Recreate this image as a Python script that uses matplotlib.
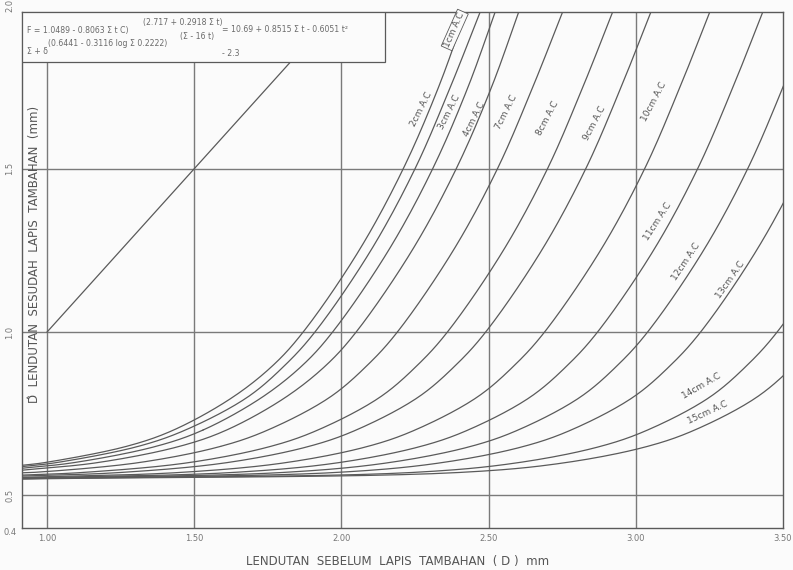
import numpy as np
import matplotlib
matplotlib.use("Agg")
import matplotlib.pyplot as plt

# ---------------- data ----------------
thickness_cm = [1, 2, 3, 4, 7, 8, 9, 10, 11, 12, 13, 14, 15]
# y-levels (mm) at which the x-crossing of each curve was read
y_levels = [0.57, 0.60, 0.65, 0.70, 0.80, 0.90, 1.00, 1.25, 1.50, 1.75, 2.00]
# deflection at the left edge of the chart for each curve
x_left = 0.915
y_left = [0.592, 0.588, 0.583, 0.577, 0.569, 0.562, 0.559, 0.555, 0.553,
          0.552, 0.551, 0.551, 0.550]
# x (deflection before overlay) where each curve reaches each y-level
x_1cm = [0.62, 0.99, 1.27, 1.43, 1.63, 1.77, 1.87, 2.06, 2.21, 2.33, 2.43]
x_2cm = [0.67, 1.03, 1.31, 1.47, 1.68, 1.81, 1.91, 2.10, 2.25, 2.37, 2.48]
x_3cm = [0.72, 1.09, 1.37, 1.53, 1.73, 1.87, 1.97, 2.16, 2.31, 2.43, 2.53]
x_4cm = [0.80, 1.17, 1.45, 1.61, 1.81, 1.95, 2.05, 2.24, 2.39, 2.51, 2.61]
x_7cm = [0.95, 1.31, 1.59, 1.75, 1.96, 2.09, 2.19, 2.38, 2.53, 2.65, 2.76]
x_8cm = [1.12, 1.48, 1.76, 1.92, 2.13, 2.26, 2.36, 2.55, 2.70, 2.82, 2.93]
x_9cm = [1.25, 1.61, 1.89, 2.05, 2.26, 2.39, 2.49, 2.68, 2.83, 2.95, 3.06]
x_10cm = [1.45, 1.81, 2.09, 2.25, 2.46, 2.59, 2.69, 2.88, 3.03, 3.15, 3.26]
x_11cm = [1.63, 1.99, 2.27, 2.43, 2.64, 2.77, 2.87, 3.06, 3.21, 3.33, 3.44]
x_12cm = [1.80, 2.16, 2.44, 2.60, 2.81, 2.94, 3.04, 3.23, 3.38, 3.50, 3.61]
x_13cm = [1.98, 2.34, 2.62, 2.78, 2.99, 3.12, 3.22, 3.41, 3.56, 3.68, 3.79]
x_14cm = [2.24, 2.60, 2.88, 3.04, 3.25, 3.38, 3.48, 3.67, 3.82, 3.94, 4.05]
x_15cm = [2.40, 2.76, 3.04, 3.20, 3.41, 3.54, 3.64, 3.83, 3.98, 4.10, 4.21]
curve_x = [x_1cm, x_2cm, x_3cm, x_4cm, x_7cm, x_8cm, x_9cm, x_10cm,
           x_11cm, x_12cm, x_13cm, x_14cm, x_15cm]

x_ticks = [1.00, 1.50, 2.00, 2.50, 3.00, 3.50]
x_tick_labels = ["1.00", "1.50", "2.00", "2.50", "3.00", "3.50"]
y_ticks = [0.5, 1.0, 1.5, 2.0]
y_tick_labels = ["0.5", "1.0", "1.5", "2.0"]

# curve labels: text, anchor (data coords), rotation
label_text = ["1cm A.C", "2cm A.C", "3cm A.C", "4cm A.C", "7cm A.C",
              "8cm A.C", "9cm A.C", "10cm A.C", "11cm A.C", "12cm A.C",
              "13cm A.C", "14cm A.C", "15cm A.C"]
label_pos = [(2.385, 1.925), (2.270, 1.681), (2.365, 1.672), (2.452, 1.653),
             (2.560, 1.672), (2.700, 1.656), (2.860, 1.638), (3.062, 1.706),
             (3.073, 1.340), (3.172, 1.215), (3.322, 1.160), (3.224, 0.834),
             (3.245, 0.752)]
label_rot = [66, 63, 63, 63, 63, 62, 62, 62, 57, 56, 55, 30, 25]

XMIN, XMAX = 0.915, 3.50
YMIN, YMAX = 0.40, 1.98

LINE = "#5a5a5a"
GRID = "#7a7a7a"
TXT = "#555555"

fig = plt.figure(figsize=(7.93, 5.70), dpi=100)
fig.patch.set_facecolor("#fbfbfb")
ax = fig.add_axes([22 / 793, 1 - 528 / 570, 761 / 793, 516 / 570])
ax.set_facecolor("#fbfbfb")
ax.set_xlim(XMIN, XMAX)
ax.set_ylim(YMIN, YMAX)


def smooth(xs, ys, n=24):
    """centripetal Catmull-Rom through the points (in normalised space)."""
    px = (np.asarray(xs) - XMIN) / (XMAX - XMIN) * 761
    py = (np.asarray(ys) - YMIN) / (YMAX - YMIN) * 516
    P = np.column_stack([px, py])
    P = np.vstack([2 * P[0] - P[1], P, 2 * P[-1] - P[-2]])
    out = []
    for i in range(1, len(P) - 2):
        p0, p1, p2, p3 = P[i - 1], P[i], P[i + 1], P[i + 2]
        t0 = 0.0
        t1 = t0 + np.linalg.norm(p1 - p0) ** 0.5 + 1e-9
        t2 = t1 + np.linalg.norm(p2 - p1) ** 0.5 + 1e-9
        t3 = t2 + np.linalg.norm(p3 - p2) ** 0.5 + 1e-9
        t = np.linspace(t1, t2, n)[:, None]
        A1 = (t1 - t) / (t1 - t0) * p0 + (t - t0) / (t1 - t0) * p1
        A2 = (t2 - t) / (t2 - t1) * p1 + (t - t1) / (t2 - t1) * p2
        A3 = (t3 - t) / (t3 - t2) * p2 + (t - t2) / (t3 - t2) * p3
        B1 = (t2 - t) / (t2 - t0) * A1 + (t - t0) / (t2 - t0) * A2
        B2 = (t3 - t) / (t3 - t1) * A2 + (t - t1) / (t3 - t1) * A3
        C = (t2 - t) / (t2 - t1) * B1 + (t - t1) / (t2 - t1) * B2
        out.append(C)
    C = np.vstack(out)
    return (C[:, 0] / 761 * (XMAX - XMIN) + XMIN,
            C[:, 1] / 516 * (YMAX - YMIN) + YMIN)


# grid
for xv in x_ticks[:-1]:
    ax.axvline(xv, color=GRID, lw=1.0, zorder=1)
for yv in y_ticks[:-1]:
    ax.axhline(yv, color=GRID, lw=1.0, zorder=1)

# 1:1 line
ax.plot([1.0, 2.0], [1.0, 2.0], color=LINE, lw=0.9, zorder=2)

# curves
for xs_lv, y0 in zip(curve_x, y_left):
    xs = [x_left] + [x for x in xs_lv if x > x_left + 0.03]
    ys = [y0] + [y for x, y in zip(xs_lv, y_levels) if x > x_left + 0.03]
    sx, sy = smooth(xs, ys)
    ax.plot(sx, sy, color=LINE, lw=0.9, zorder=3, clip_on=True)

# curve labels
for i, (t, (lx, ly), r) in enumerate(zip(label_text, label_pos, label_rot)):
    kw = {}
    if i == 0:
        kw["bbox"] = dict(boxstyle="square,pad=0.15", fc="#fbfbfb",
                          ec=LINE, lw=0.6)
    ax.text(lx, ly, t, rotation=r, fontsize=6.5, color=TXT,
            ha="center", va="center", rotation_mode="anchor", zorder=6,
            **kw)

for s in ax.spines.values():
    s.set_color(LINE)
    s.set_linewidth(1.0)
ax.set_xticks([])
ax.set_yticks([])

# tick labels
for xv, lab in zip(x_ticks, x_tick_labels):
    ax.text(xv, -0.012, lab, transform=ax.get_xaxis_transform(),
            ha="center", va="top", fontsize=6, color="#777777")
for yv, lab in zip(y_ticks, y_tick_labels):
    ax.text(-0.016, yv, lab, transform=ax.get_yaxis_transform(),
            ha="center", va="center", fontsize=6, color="#777777",
            rotation=90)
ax.text(-0.016, YMIN, "0.4", transform=ax.get_yaxis_transform(),
        ha="center", va="top", fontsize=6, color="#777777")

# axis titles
ax.text(0.016, 0.53, "D̂  LENDUTAN  SESUDAH  LAPIS  TAMBAHAN  (mm)",
        transform=ax.transAxes, rotation=90, ha="center", va="center",
        fontsize=8.5, color=TXT, zorder=5)
fig.text(398 / 793, 1 - 562 / 570,
         "LENDUTAN  SEBELUM  LAPIS  TAMBAHAN  ( D )  mm",
         ha="center", va="center", fontsize=8.5, color=TXT)

# formula box
box = plt.Rectangle((0, 1 - 50 / 516), 363 / 761, 50 / 516,
                    transform=ax.transAxes, fc="#fbfbfb", ec=LINE, lw=0.9,
                    zorder=7)
ax.add_patch(box)


def ftext(px, py, s, fs=5.6):
    ax.text((px - 22) / 761, (528 - py) / 516, s, transform=ax.transAxes,
            fontsize=fs, color="#6a6a6a", ha="left", va="center", zorder=8)


ftext(143, 22, "(2.717 + 0.2918 Σ t)")
ftext(27, 30, "F = 1.0489 - 0.8063 Σ t C)")
ftext(180, 37, "(Σ - 16 t)")
ftext(222, 30, "= 10.69 + 0.8515 Σ t - 0.6051 t²")
ftext(48, 44, "(0.6441 - 0.3116 log Σ 0.2222)")
ftext(27, 52, "Σ + δ")
ftext(222, 54, "- 2.3")

fig.savefig("out.png", dpi=100, facecolor=fig.get_facecolor())
